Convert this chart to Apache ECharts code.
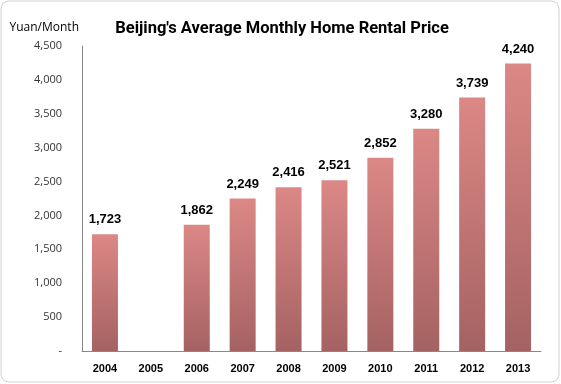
<!DOCTYPE html>
<html><head><meta charset="utf-8">
<script src="https://cdn.jsdelivr.net/npm/echarts@6/dist/echarts.min.js"></script>
<style>html,body{margin:0;padding:0;background:#fff}#c{width:561px;height:384px}</style>
</head><body><div id="c"></div>
<script>
const categories = ['2004','2005','2006','2007','2008','2009','2010','2011','2012','2013'];
const prices = [1723, null, 1862, 2249, 2416, 2521, 2852, 3280, 3739, 4240];
const yTicks = [0, 500, 1000, 1500, 2000, 2500, 3000, 3500, 4000, 4500];

const chart = echarts.init(document.getElementById('c'));
chart.setOption({
  animation: false,
  backgroundColor: '#fff',
  graphic: [{
    type: 'rect', shape: {x: 1, y: 1, width: 558, height: 381, r: 8},
    style: {fill: 'none', stroke: '#d0d0d0', lineWidth: 1}, silent: true
  }],
  title: {
    text: "Beijing's Average Monthly Home Rental Price",
    left: 277, textAlign: 'center', top: 15,
    textStyle: {fontFamily: 'Roboto', fontWeight: 'bold', fontSize: 16.5, color: '#000'}
  },
  grid: {left: 82, right: 20, top: 46, bottom: 33, containLabel: false},
  xAxis: {
    type: 'category', data: categories,
    axisLine: {lineStyle: {color: '#888', width: 1}},
    axisTick: {show: false},
    axisLabel: {fontFamily: 'Liberation Sans', fontWeight: 'bold', fontSize: 11, color: '#000', margin: 12}
  },
  yAxis: {
    type: 'value', min: 0, max: 4500, interval: 500,
    name: 'Yuan/Month', nameLocation: 'end', nameGap: 12,
    nameTextStyle: {fontFamily: 'Open Sans', fontSize: 12, color: '#000', align: 'right', padding: [0, 3, 0, 0]},
    axisLine: {show: true, lineStyle: {color: '#888', width: 1}},
    axisTick: {show: false},
    splitLine: {show: false},
    axisLabel: {
      fontFamily: 'Open Sans', fontSize: 11, color: '#333', margin: 20,
      formatter: v => v === 0 ? '-' : v.toLocaleString('en-US')
    }
  },
  series: [{
    type: 'bar', data: prices, barWidth: 26,
    itemStyle: {
      color: new echarts.graphic.LinearGradient(0, 0, 0, 1, [
        {offset: 0, color: '#db8886'},
        {offset: 1, color: '#a56262'}
      ])
    },
    label: {
      show: true, position: 'top', distance: 8,
      fontFamily: 'Liberation Sans', fontWeight: 'bold', fontSize: 13, color: '#000',
      formatter: p => p.value == null ? '' : p.value.toLocaleString('en-US')
    }
  }]
});
</script></body></html>
